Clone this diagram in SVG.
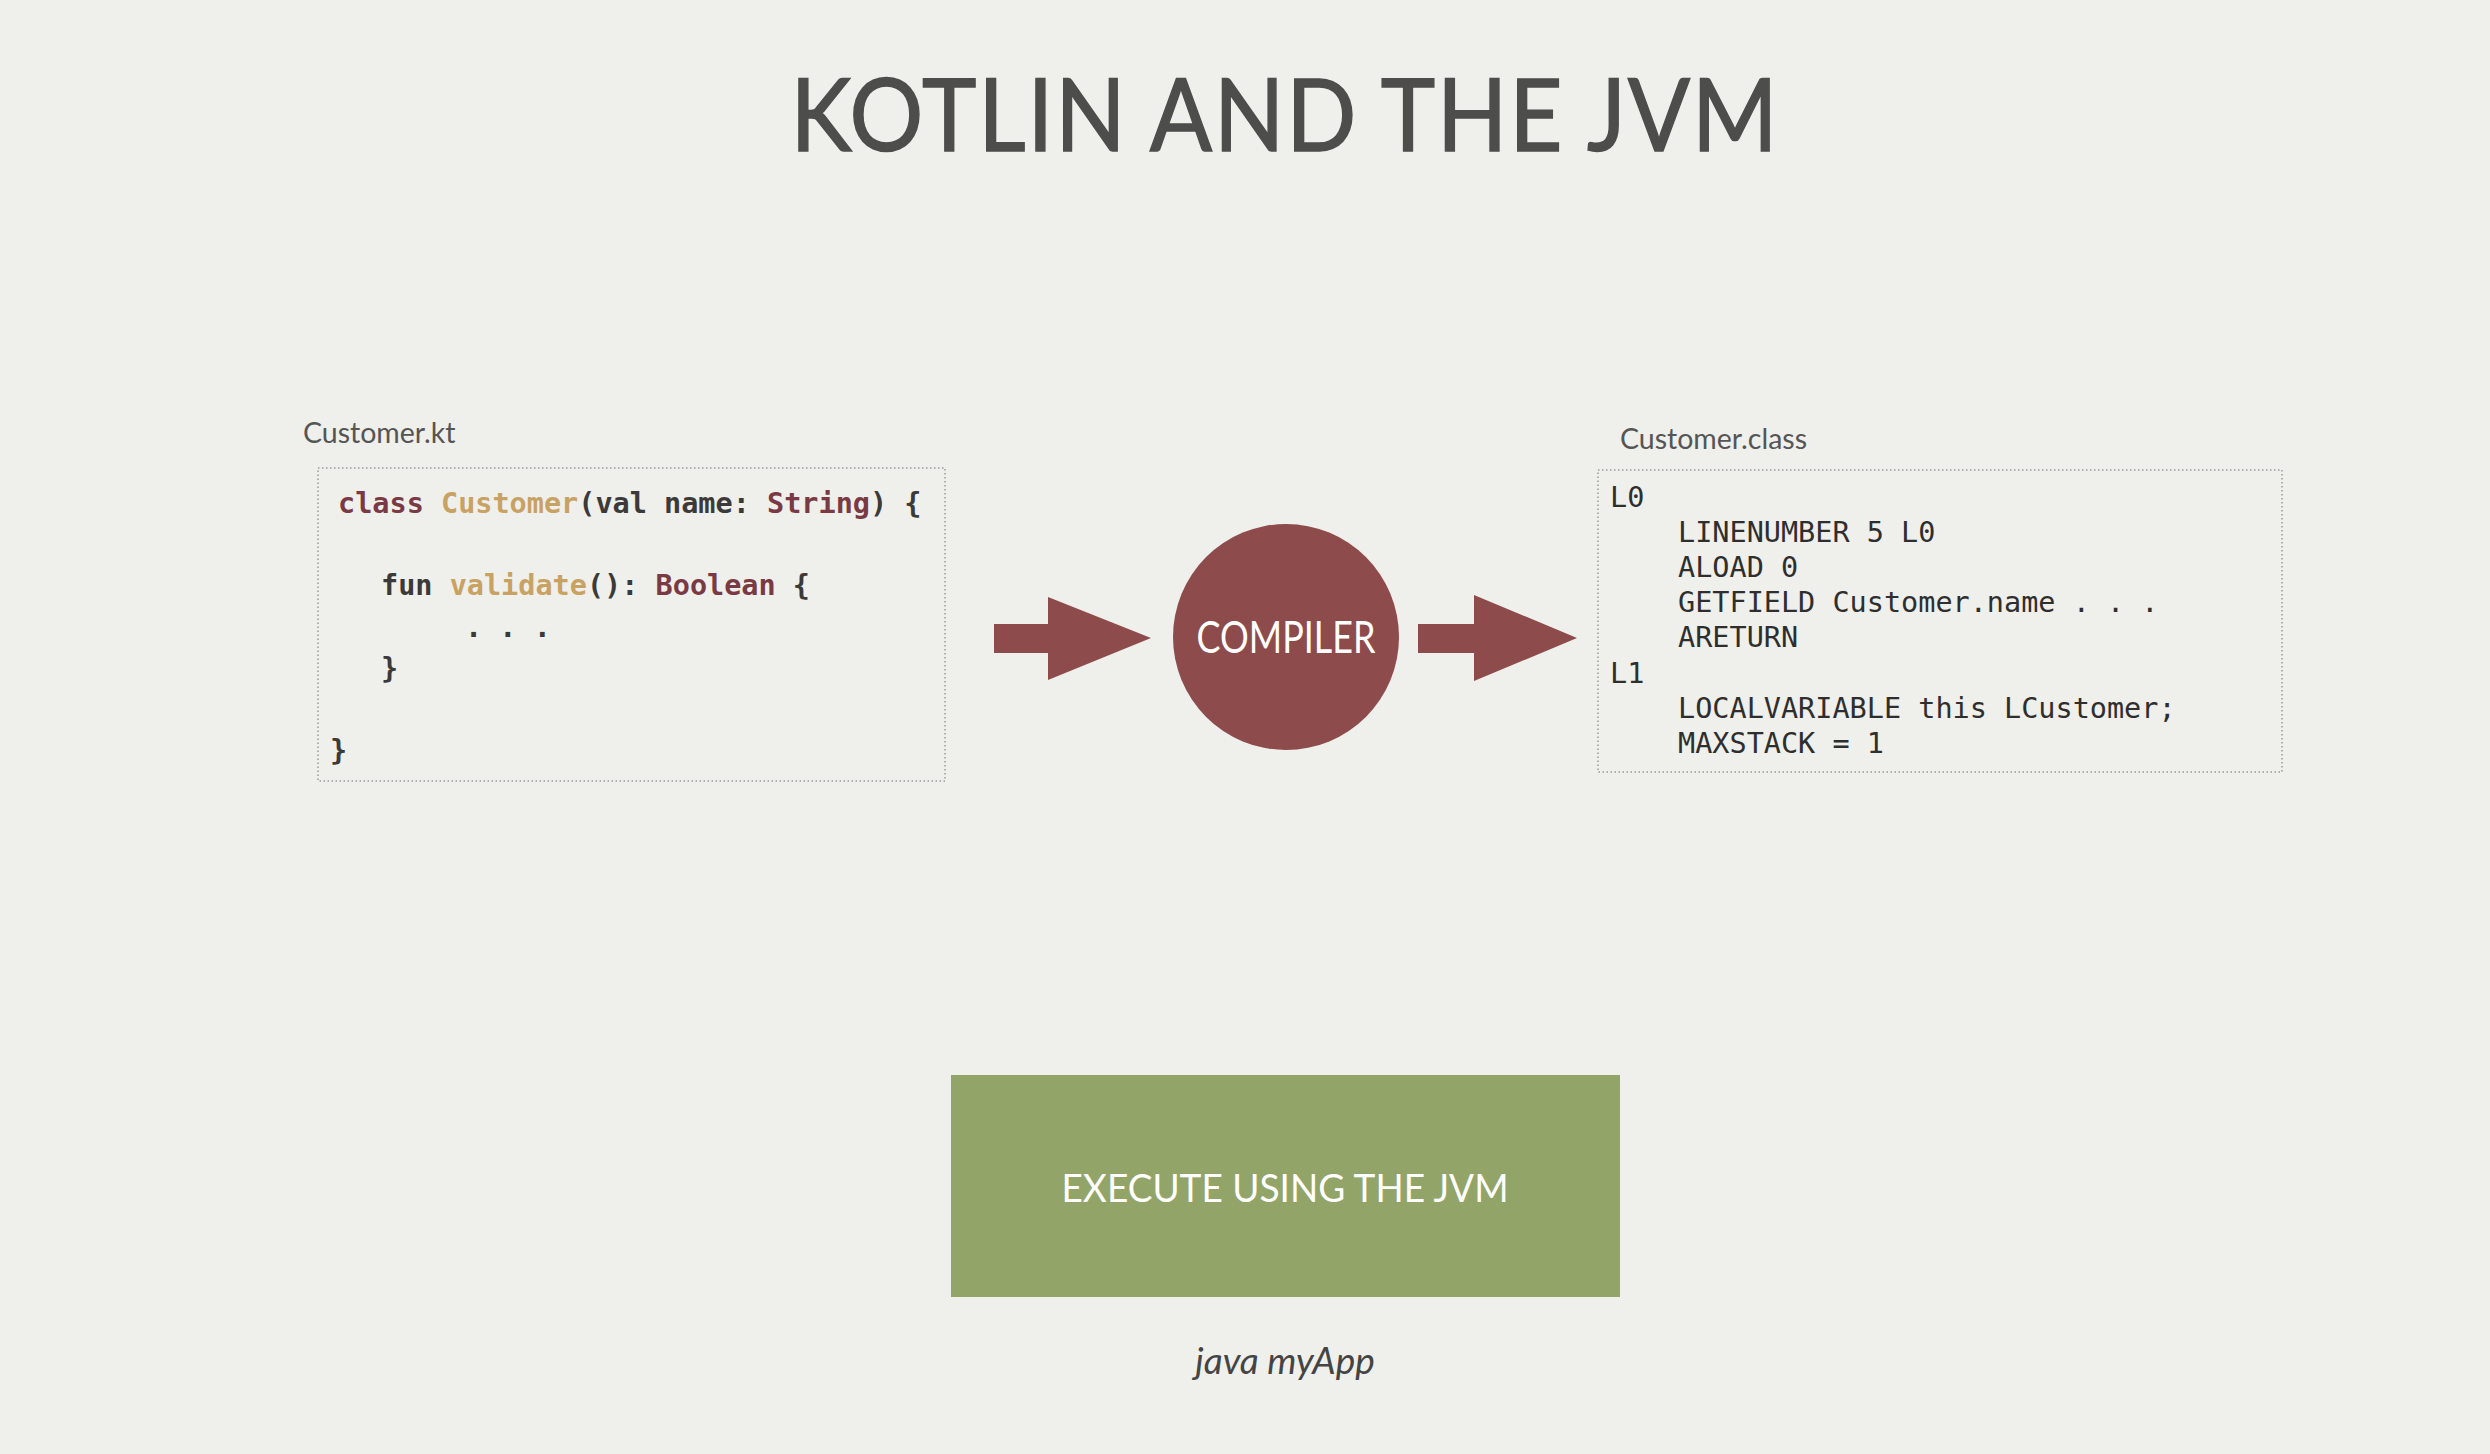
<svg xmlns="http://www.w3.org/2000/svg" width="2490" height="1454" viewBox="0 0 2490 1454">
  <style>
    .title { font-family: Lato, "Liberation Sans", sans-serif; font-size: 100px; fill: #4d4d4b; letter-spacing: 2px; stroke: #4d4d4b; stroke-width: 1.5px; }
    .label { font-family: Lato, "Liberation Sans", sans-serif; font-size: 28.5px; fill: #555; }
    .box { fill: none; stroke: #9a9a9a; stroke-width: 1.5; stroke-dasharray: 1.5 2.5; }
    .code { font-family: "DejaVu Sans Mono", "Liberation Mono", monospace; font-size: 28.5px; font-weight: bold; fill: #3c3a38; white-space: pre; }
    .bc { font-family: "DejaVu Sans Mono", "Liberation Mono", monospace; font-size: 28.5px; fill: #2e2e2e; white-space: pre; }
    .kw { fill: #7a3a44; }
    .nm { fill: #c8a263; }
    .arrow { fill: #8e4b4c; }
    .cap { font-family: Lato, "Liberation Sans", sans-serif; fill: #ffffff; }
  </style>

  <!-- paper background -->
  <rect x="0" y="0" width="2490" height="1454" fill="#efefec"/>

  <g id="title">
    <text class="title" x="1285" y="151" text-anchor="middle" textLength="989" lengthAdjust="spacingAndGlyphs">KOTLIN AND THE JVM</text>
  </g>

  <!-- Kotlin source file -->
  <g id="source-file">
    <text class="label" x="303" y="443">Customer.kt</text>
    <rect class="box" x="318" y="468" width="627" height="313"/>
    <text class="code" x="338" y="513"><tspan class="kw">class</tspan> <tspan class="nm">Customer</tspan>(val name: <tspan class="kw">String</tspan>) {</text>
    <text class="code" x="381" y="595">fun <tspan class="nm">validate</tspan>(): <tspan class="kw">Boolean</tspan> {</text>
    <text class="code" x="465" y="637">. . .</text>
    <text class="code" x="381" y="678">}</text>
    <text class="code" x="330" y="760">}</text>
  </g>

  <!-- compiler step -->
  <g id="compiler">
    <circle cx="1286" cy="637" r="113" fill="#8e4b4c"/>
    <text class="cap" x="1286" y="653" font-size="44" text-anchor="middle" textLength="179" lengthAdjust="spacingAndGlyphs">COMPILER</text>
  </g>

  <!-- bytecode output -->
  <g id="class-file">
    <text class="label" x="1620" y="449">Customer.class</text>
    <rect class="box" x="1598" y="470" width="684" height="302"/>
    <text class="bc" x="1610" y="507">L0</text>
    <text class="bc" x="1678" y="542">LINENUMBER 5 L0</text>
    <text class="bc" x="1678" y="577">ALOAD 0</text>
    <text class="bc" x="1678" y="612">GETFIELD Customer.name . . .</text>
    <text class="bc" x="1678" y="647">ARETURN</text>
    <text class="bc" x="1610" y="683">L1</text>
    <text class="bc" x="1678" y="718">LOCALVARIABLE this LCustomer;</text>
    <text class="bc" x="1678" y="753">MAXSTACK = 1</text>
  </g>

  <!-- runtime step -->
  <g id="execute">
    <rect x="951" y="1075" width="669" height="222" fill="#93a469"/>
    <text class="cap" x="1285" y="1202" font-size="38" text-anchor="middle" textLength="447" lengthAdjust="spacingAndGlyphs">EXECUTE USING THE JVM</text>
  </g>

  <g id="run-command">
    <text x="1285" y="1374" text-anchor="middle" font-family="Lato, 'Liberation Sans', sans-serif" font-style="italic" font-size="37" fill="#444">java myApp</text>
  </g>

  <g id="connectors">
    <polygon class="arrow" points="994,624 1048,624 1048,597 1151,638 1048,680 1048,653 994,653"/>
    <polygon class="arrow" points="1418,624 1474,624 1474,595 1577,638 1474,681 1474,653 1418,653"/>
  </g>
</svg>
